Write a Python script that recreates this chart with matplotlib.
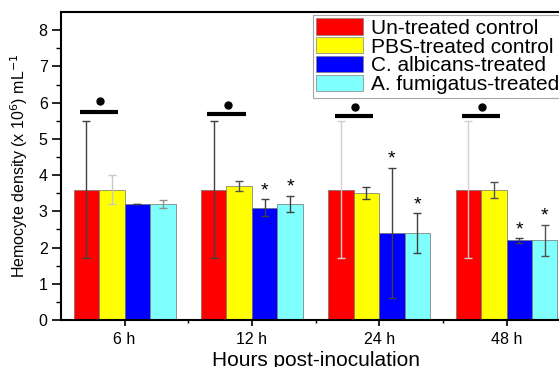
import matplotlib.pyplot as plt
import numpy as np

plt.rcParams['font.family'] = ['Liberation Sans', 'DejaVu Sans']

# data
groups = ['6 h', '12 h', '24 h', '48 h']
series = ['Un-treated control', 'PBS-treated control', 'C. albicans-treated', 'A. fumigatus-treated']
colors = ['#ff0000', '#ffff00', '#0000ff', '#80ffff']

untreated = [3.6, 3.6, 3.6, 3.6]
pbs = [3.6, 3.7, 3.5, 3.6]
albicans = [3.2, 3.1, 2.4, 2.2]
fumigatus = [3.2, 3.2, 2.4, 2.2]

untreated_err = [1.9, 1.9, 1.9, 1.9]
pbs_err = [0.4, 0.15, 0.16, 0.22]
albicans_err = [0.01, 0.23, 1.8, 0.06]
fumigatus_err = [0.1, 0.23, 0.55, 0.43]

# error bar shade per bar (dark / light)
err_colors = [
    ['#404040', '#404040', '#d0d0d0', '#d0d0d0'],
    ['#c8c8c8', '#505050', '#404040', '#505050'],
    ['#404040', '#404040', '#404040', '#404040'],
    ['#909090', '#404040', '#404040', '#505050'],
]

# stars on treated groups (series index, group index)
stars = [(2, 1), (3, 1), (2, 2), (3, 2), (2, 3), (3, 3)]
# significance bar heights and dot heights for the controls
sig_line = [5.75, 5.69, 5.63, 5.63]
sig_dot = [6.06, 5.94, 5.88, 5.88]

values = [untreated, pbs, albicans, fumigatus]
errors = [untreated_err, pbs_err, albicans_err, fumigatus_err]

fig = plt.figure(figsize=(5.59, 3.67), dpi=100)
ax = fig.add_axes([0.109, 0.128, 0.911, 0.839])

x = np.arange(1, len(groups) + 1)
w = 0.2
offsets = [-0.3, -0.1, 0.1, 0.3]

for i in range(4):
    ax.bar(x + offsets[i], values[i], w, color=colors[i], edgecolor='#707070',
           linewidth=0.5, label=series[i], zorder=2)
    for j in range(len(groups)):
        ax.errorbar(x[j] + offsets[i], values[i][j], yerr=errors[i][j], fmt='none',
                    ecolor=err_colors[i][j], elinewidth=1.0, capsize=3, capthick=1.0, zorder=3)

for (i, j) in stars:
    top = values[i][j] + errors[i][j]
    ax.text(x[j] + offsets[i], top, '*', ha='center', va='bottom', fontsize=14)

for j in range(len(groups)):
    ax.plot([x[j] - 0.35, x[j] - 0.05], [sig_line[j], sig_line[j]], color='black', lw=3,
            solid_capstyle='butt', zorder=4)
    ax.plot(x[j] - 0.19, sig_dot[j], 'o', color='black', ms=5, zorder=4)

ax.set_xlim(0.5, 4.5)
ax.set_ylim(0, 8.5)
ax.set_xticks(x)
ax.set_xticklabels(groups)
ax.set_xticks([1.5, 2.5, 3.5], minor=True)
ax.set_yticks(range(0, 9))
ax.set_yticks(np.arange(0.5, 8.5, 1), minor=True)
ax.tick_params(axis='both', which='major', direction='out', width=1.2, labelsize=11.5)
ax.tick_params(axis='both', which='minor', direction='out', width=1.0)
ax.tick_params(axis='y', which='major', length=6.5, pad=3)
ax.tick_params(axis='y', which='minor', length=3.5)
ax.tick_params(axis='x', which='major', length=4.5, pad=4)
ax.tick_params(axis='x', which='minor', length=2.5)
for s in ax.spines.values():
    s.set_linewidth(1.5)

ax.set_ylabel('Hemocyte density (x 10$^{6}$) mL$^{-1}$', fontsize=11.5, labelpad=6)
ax.set_xlabel('Hours post-inoculation', fontsize=15, labelpad=3)

leg = ax.legend(loc='upper left', bbox_to_anchor=(0.495, 0.99), fontsize=15, frameon=True,
                fancybox=False, edgecolor='#909090', handlelength=2.25, handleheight=0.82,
                labelspacing=-0.02, borderpad=0.15, handletextpad=0.4, borderaxespad=0)
leg.get_frame().set_linewidth(0.8)
for p in leg.get_patches():
    p.set_edgecolor('#808080')

plt.savefig('out.png', dpi=100)
